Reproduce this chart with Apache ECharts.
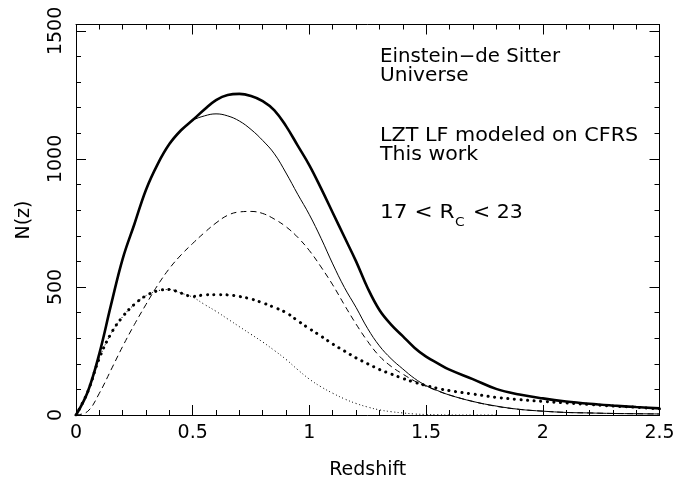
<!DOCTYPE html>
<html>
<head>
<meta charset="utf-8">
<script src="https://cdn.jsdelivr.net/npm/echarts@6/dist/echarts.min.js"></script>
<style>
  html, body { margin: 0; padding: 0; background: #fff; }
  #chart { width: 685px; height: 483px; }
</style>
</head>
<body>
<div id="chart"></div>
<script>
// Redshift distribution N(z), Einstein-de Sitter universe, 17 < R_C < 23

// redshift grid shared by every curve
const redshift = [
  0, 0.05, 0.1, 0.15, 0.2, 0.25, 0.3, 0.35, 0.4, 0.45, 0.5, 0.55, 0.6, 0.65, 0.7, 0.75,
  0.8, 0.85, 0.9, 0.95, 1.0, 1.05, 1.1, 1.15, 1.2, 1.25, 1.3, 1.35, 1.4, 1.45, 1.5, 1.55,
  1.6, 1.7, 1.8, 1.9, 2.0, 2.1, 2.2, 2.3, 2.4, 2.5
];

// total counts (thick solid)
const nTotal = [
  0, 90, 240, 430, 610, 745, 880, 980, 1058, 1112, 1152, 1193, 1230, 1250, 1254, 1246,
  1226, 1190, 1128, 1052, 975, 885, 790, 695, 600, 495, 410, 353, 308, 263, 228, 202,
  177, 140, 102, 80, 65, 53, 44, 37, 31, 26
];

// model prediction (thin solid)
const nModel = [
  0, 90, 240, 430, 610, 745, 880, 980, 1058, 1112, 1150, 1168, 1176, 1168, 1148, 1115,
  1072, 1020, 945, 862, 782, 690, 590, 498, 420, 337, 270, 220, 180, 143, 115, 95,
  78, 53, 35, 22, 15, 10, 8, 6, 5, 4
];

// dashed component
const nDashed = [
  0, 14, 85, 176, 268, 353, 432, 507, 572, 625, 670, 712, 750, 780, 793, 795,
  787, 765, 735, 694, 642, 578, 508, 430, 355, 287, 230, 190, 160, 133, 112, 94,
  78, 53, 34, 22, 15, 10, 8, 6, 5, 4
];

// heavy dotted component
const nDottedHeavy = [
  0, 90, 222, 318, 384, 432, 466, 485, 490, 476, 463, 469, 470, 469, 463, 453,
  438, 420, 400, 368, 337, 308, 277, 250, 223, 200, 178, 160, 143, 128, 115, 104,
  95, 82, 69, 60, 53, 47, 41, 35, 30, 24
];

// light dotted component
const nDottedLight = [
  0, 90, 222, 318, 384, 432, 466, 485, 490, 476, 460, 432, 405, 375, 345, 315,
  285, 252, 217, 177, 140, 110, 85, 63, 45, 31, 20, 13, 8, 4, 2, 1,
  0, 0, 0
];

const xLabelValues = [0, 0.5, 1, 1.5, 2, 2.5];
const yMajorValues = [0, 500, 1000, 1500];

const FONT = 'DejaVu Sans';
const INK = '#000';

function pairs(values) {
  return values.map((v, i) => [redshift[i], v]);
}

const chart = echarts.init(document.getElementById('chart'), null, { renderer: 'canvas' });

function xAxisDef(pos, showLabels) {
  return {
    type: 'value', position: pos, min: 0, max: 2.5, interval: 0.5,
    axisLine: { show: true, onZero: false, lineStyle: { color: INK, width: 1 } },
    axisTick: { show: true, inside: true, length: 10, lineStyle: { color: INK, width: 1 } },
    minorTick: { show: true, splitNumber: 5, length: 5, lineStyle: { color: INK, width: 1 } },
    splitLine: { show: false },
    minorSplitLine: { show: false },
    axisLabel: {
      show: showLabels, margin: 9, color: INK, fontFamily: FONT, fontSize: 19,
      formatter: v => (xLabelValues.indexOf(v) >= 0 ? String(v) : '')
    }
  };
}

function yAxisDef(pos, showLabels, major) {
  return {
    type: 'value', position: pos, min: 0, max: 1525, interval: 100,
    axisLine: { show: !major, onZero: false, lineStyle: { color: INK, width: 1 } },
    axisTick: major
      ? { show: true, inside: true, length: 10, customValues: yMajorValues, lineStyle: { color: INK, width: 1 } }
      : { show: true, inside: true, length: 5, lineStyle: { color: INK, width: 1 } },
    splitLine: { show: false },
    axisLabel: {
      show: showLabels, rotate: 90, margin: 10, color: INK, fontFamily: FONT, fontSize: 19,
      formatter: v => (yMajorValues.indexOf(v) >= 0 ? String(v) : '')
    }
  };
}

function lineSeries(values, style) {
  return {
    type: 'line', data: pairs(values), xAxisIndex: 0, yAxisIndex: 0,
    showSymbol: false, symbol: 'none', smooth: 0.4,
    lineStyle: style, z: 3, silent: true
  };
}

const textFont = '19px "DejaVu Sans"';

const option = {
  animation: false,
  backgroundColor: '#fff',
  grid: { left: 76, right: 25.5, top: 24.5, bottom: 68, containLabel: false },
  xAxis: [xAxisDef('bottom', true), xAxisDef('top', false)],
  yAxis: [
    yAxisDef('left', true, false),
    yAxisDef('right', false, false),
    yAxisDef('left', false, true),
    yAxisDef('right', false, true)
  ],
  series: [
    lineSeries(nDottedLight, { color: INK, width: 1, type: [1, 2.6] }),
    lineSeries(nDottedHeavy, { color: INK, width: 3, type: [0.1, 6.5], cap: 'round' }),
    lineSeries(nDashed, { color: INK, width: 1, type: [6, 4] }),
    lineSeries(nModel, { color: INK, width: 1 }),
    lineSeries(nTotal, { color: INK, width: 2.6 })
  ],
  graphic: [
    { type: 'text', x: 367.7, y: 470,
      style: { text: 'Redshift', font: textFont, fill: INK, align: 'center', verticalAlign: 'middle' } },
    { type: 'text', x: 24, y: 220, rotation: Math.PI / 2,
      style: { text: 'N(z)', font: textFont, fill: INK, align: 'center', verticalAlign: 'middle' } },
    { type: 'text', x: 380, y: 57, scaleX: 1.04,
      style: { text: 'Einstein\u2212de Sitter', font: textFont, fill: INK, verticalAlign: 'middle' } },
    { type: 'text', x: 380, y: 76, scaleX: 1.06,
      style: { text: 'Universe', font: textFont, fill: INK, verticalAlign: 'middle' } },
    { type: 'text', x: 380, y: 136, scaleX: 1.09,
      style: { text: 'LZT LF modeled on CFRS', font: textFont, fill: INK, verticalAlign: 'middle' } },
    { type: 'text', x: 380, y: 155, scaleX: 1.08,
      style: { text: 'This work', font: textFont, fill: INK, verticalAlign: 'middle' } },
    { type: 'text', x: 380, y: 213, scaleX: 1.14,
      style: { text: '17 < R', font: textFont, fill: INK, verticalAlign: 'middle' } },
    { type: 'text', x: 455, y: 223, scaleX: 1.06,
      style: { text: 'C', font: '13px "DejaVu Sans"', fill: INK, verticalAlign: 'middle' } },
    { type: 'text', x: 473, y: 213, scaleX: 1.08,
      style: { text: '< 23', font: textFont, fill: INK, verticalAlign: 'middle' } }
  ]
};

chart.setOption(option);
</script>
</body>
</html>
